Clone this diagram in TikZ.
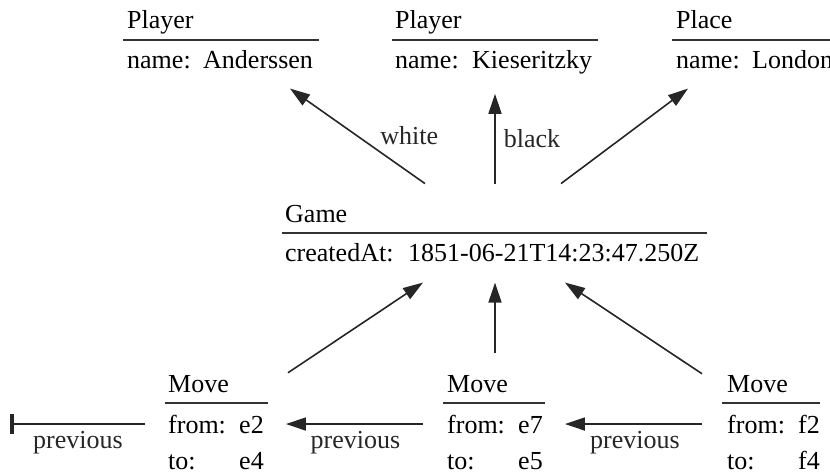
\documentclass[tikz,border=0pt]{standalone}
\usepackage{fontspec}
\setmainfont{Liberation Serif}
\usetikzlibrary{arrows.meta, positioning}

\newcommand{\attr}[3]{\makebox[#1][l]{#2}#3}

\begin{document}
\begin{tikzpicture}[x=1pt, y=-1pt,
  txt/.style={inner sep=0pt, anchor=base west, font=\fontsize{26}{31}\selectfont},
  lbl/.style={inner sep=0pt, font=\fontsize{26}{31}\selectfont},
  rul/.style={line width=2.4pt, black!80},
  link/.style={-{Triangle[length=20pt,width=13pt]}, line width=1.6pt, black!85},
  nullref/.style={-{Bar[width=20pt,line width=3.5pt]}, line width=1.6pt, black!85}
]
  \useasboundingbox (0,0) rectangle (830,476);

  \node[txt] (p1t) at (127,29) {Player};
  \node[txt] (p1a) at (127,69) {\attr{76pt}{name:}{Anderssen}};
  \draw[rul] (123,40) -- (319,40);

  \node[txt] (p2t) at (395,29) {Player};
  \node[txt] (p2a) at (395,69) {\attr{77pt}{name:}{Kieseritzky}};
  \draw[rul] (392,40) -- (598,40);

  \node[txt] (p3t) at (676,29) {Place};
  \node[txt] (p3a) at (676,69) {\attr{76pt}{name:}{London}};
  \draw[rul] (672,40) -- (835,40);

  \node[txt] (gt) at (285,222) {Game};
  \node[txt] (ga) at (285,261) {\attr{123pt}{createdAt:}{1851-06-21T14:23:47.250Z}};
  \draw[rul] (282,233) -- (707,233);

  \node[txt] (m1t) at (168,392) {Move};
  \node[txt] (m1f) at (168,433) {\attr{71pt}{from:}{e2}};
  \node[txt] (m1o) at (168,469) {\attr{71pt}{to:}{e4}};
  \draw[rul] (165,403) -- (268,403);

  \node[txt] (m2t) at (447,392) {Move};
  \node[txt] (m2f) at (447,433) {\attr{71pt}{from:}{e7}};
  \node[txt] (m2o) at (447,469) {\attr{71pt}{to:}{e5}};
  \draw[rul] (443,403) -- (545,403);

  \node[txt] (m3t) at (727,392) {Move};
  \node[txt] (m3f) at (727,433) {\attr{71pt}{from:}{f2}};
  \node[txt] (m3o) at (727,469) {\attr{71pt}{to:}{f4}};
  \draw[rul] (722,403) -- (820,403);

  \draw[link] ([shift={(140,-21)}]gt.north west) -- node[lbl, right=22pt] {white} ([shift={(163,19)}]p1a.south west);
  \draw[link] ([shift={(210,-21)}]gt.north west) -- node[lbl, right=8pt] {black} ([shift={(100,19)}]p2a.south west);
  \draw[link] ([shift={(276,-21)}]gt.north west) -- ([shift={(12,19)}]p3a.south west);

  \draw[link] ([shift={(120,-2)}]m1t.north west) -- ([shift={(138,21)}]ga.south west);
  \draw[link] ([shift={(48,-22)}]m2t.north west) -- ([shift={(210,21)}]ga.south west);
  \draw[link] ([shift={(-25,-1)}]m3t.north west) -- ([shift={(280,21)}]ga.south west);

  \path (m1f.west) ++(-158,0) coordinate (nil);
  \draw[nullref, shorten <=23pt] (m1f) -- node[lbl, pos=0.57, below=6pt] {previous} (nil);
  \draw[link, shorten <=24pt, shorten >=22pt] (m2f) -- node[lbl, below=6pt] {previous} (m1f);
  \draw[link, shorten <=25pt, shorten >=22pt] (m3f) -- node[lbl, below=6pt] {previous} (m2f);
\end{tikzpicture}
\end{document}
